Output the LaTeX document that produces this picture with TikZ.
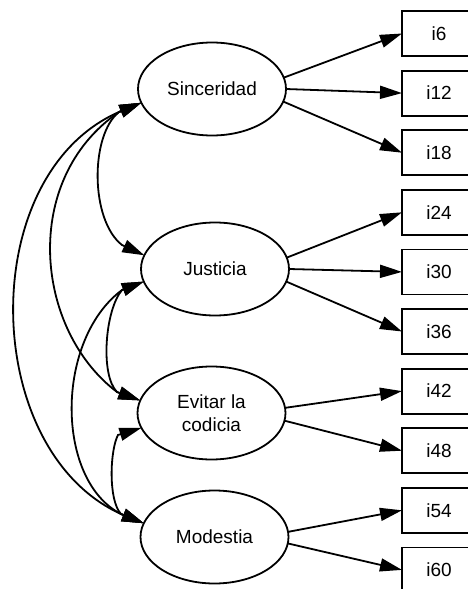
\documentclass[tikz,border=0pt]{standalone}
\usepackage{fontspec}
\setmainfont{Liberation Sans}
\usetikzlibrary{arrows.meta,shapes.geometric}
\begin{document}
\begin{tikzpicture}[x=1pt,y=-1pt,
  lat/.style={ellipse,draw,line width=1.8pt,minimum width=148pt,minimum height=93pt,inner sep=0pt,outer sep=0pt,font=\fontsize{19}{22.5}\selectfont,align=center},
  obs/.style={rectangle,draw,line width=1.8pt,minimum width=74pt,minimum height=45pt,inner sep=0pt,outer sep=0pt,font=\fontsize{19}{22.5}\selectfont},
  load/.style={line width=1.8pt,-{Triangle[length=22pt,width=13pt]}},
  cov/.style={line width=1.8pt,{Triangle[length=22pt,width=13pt]}-{Triangle[length=22pt,width=13pt]}}
]
\clip (0,0) rectangle (468,589);
% latent variables
\node[lat] (sin) at (212,89) {Sinceridad};
\node[lat] (jus) at (215,269) {Justicia};
\node[lat] (evi) at (211.5,413) {Evitar la\\codicia};
\node[lat] (mod) at (214.5,537) {Modestia};
% indicators
\node[obs] (i6)  at (439,33.5)  {i6};
\node[obs] (i12) at (439,93.1)  {i12};
\node[obs] (i18) at (439,152.7) {i18};
\node[obs] (i24) at (439,212.3) {i24};
\node[obs] (i30) at (439,271.9) {i30};
\node[obs] (i36) at (439,331.5) {i36};
\node[obs] (i42) at (439,391.1) {i42};
\node[obs] (i48) at (439,450.7) {i48};
\node[obs] (i54) at (439,510.3) {i54};
\node[obs] (i60) at (439,569.9) {i60};
% loadings
\draw[load] (sin.9)   -- (i6.west);
\draw[load] (sin.0)   -- (i12.west);
\draw[load] (sin.-10) -- (i18.west);
\draw[load] (jus.9)   -- (i24.west);
\draw[load] (jus.0)   -- (i30.west);
\draw[load] (jus.-10) -- (i36.west);
\draw[load] (evi.4)   -- (i42.west);
\draw[load] (evi.-6)  -- (i48.west);
\draw[load] (mod.4.5) -- (i54.west);
\draw[load] (mod.-5)  -- (i60.west);
% arrow bases of the covariance curves
\coordinate (sinB) at (119,112);
\coordinate (jusT) at (122,245);
\coordinate (jusB) at (122,290);
\coordinate (eviT) at (117,392);
\coordinate (eviB) at (118,435);
\coordinate (modT) at (121,514);
% covariances
\draw[cov] (sin.191) -- (sinB) .. controls (90,135) and (90,220) .. (jusT) -- (jus.169);
\draw[cov] (sin.191) -- (sinB) .. controls (20,180) and (35,330) .. (eviT) -- (evi.170);
\draw[cov] (sin.191) -- (sinB) .. controls (-25,175) and (-20,450) .. (modT) -- (mod.169);
\draw[cov] (jus.190) -- (jusB) .. controls (105,310) and (100,375) .. (eviT) -- (evi.170);
\draw[cov] (jus.190) -- (jusB) .. controls (55,340) and (55,480) .. (modT) -- (mod.169);
\draw[cov] (evi.192) -- (eviB) .. controls (110,450) and (108,500) .. (modT) -- (mod.169);
\end{tikzpicture}
\end{document}
